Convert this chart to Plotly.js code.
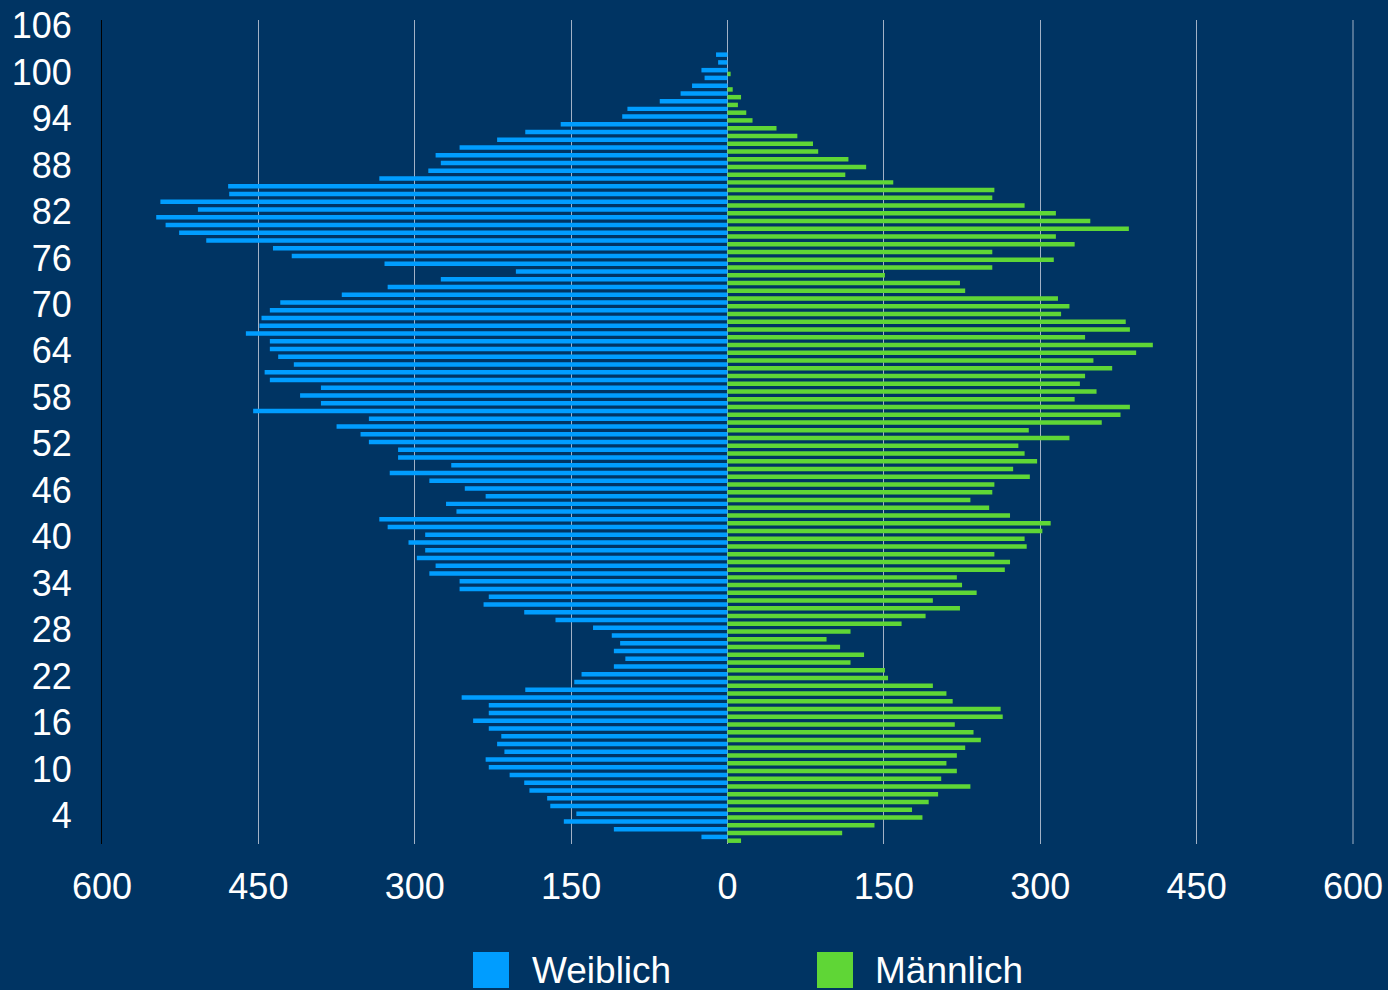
<!DOCTYPE html>
<html>
<head>
<meta charset="utf-8">
<script src="https://cdn.plot.ly/plotly-3.0.1.min.js"></script>
<style>
  html, body { margin: 0; padding: 0; background: #003463; }
  #chart { width: 1388px; height: 990px; }
</style>
</head>
<body>
<div id="chart"></div>
<script>
// Ages (categories), bottom to top
const ages = [];
for (let a = 1; a <= 102; a++) ages.push(a);

// Weiblich (female) counts, ages 1..102
const weiblich = [
  25, 109, 157, 145, 170, 173, 190, 195, 209, 229,
  232, 214, 221, 217, 229, 244, 229, 229, 255, 194,
  147, 140, 109, 98, 109, 103, 111, 129, 165, 195,
  234, 229, 257, 257, 286, 280, 298, 290, 306, 290,
  326, 334, 260, 270, 232, 252, 286, 324, 265, 316,
  316, 344, 352, 375, 344, 455, 390, 410, 390, 439,
  444, 416, 431, 439, 439, 462, 449, 447, 439, 429,
  370, 326, 275, 203, 329, 418, 436, 500, 526, 539,
  548, 508, 544, 478, 479, 334, 287, 275, 280, 257,
  221, 194, 160, 101, 96, 65, 45, 34, 22, 25,
  9, 11
];

// Männlich (male) counts, ages 1..102
const maennlich = [
  13, 110, 141, 187, 177, 193, 202, 233, 205, 220,
  210, 220, 228, 243, 236, 218, 264, 262, 216, 210,
  197, 154, 151, 118, 131, 108, 95, 118, 167, 190,
  223, 197, 239, 225, 220, 266, 271, 256, 287, 285,
  302, 310, 271, 251, 233, 254, 256, 290, 274, 297,
  285, 279, 328, 289, 359, 377, 386, 333, 354, 338,
  343, 369, 351, 392, 408, 343, 386, 382, 320, 328,
  317, 228, 223, 151, 254, 313, 254, 333, 315, 385,
  348, 315, 285, 254, 256, 159, 113, 133, 116, 87,
  82, 67, 47, 24, 18, 10, 13, 5, 0, 3,
  0, 0
];

const seriesNames = ["Weiblich", "Männlich"];
const xTickVals = [-600, -450, -300, -150, 0, 150, 300, 450, 600];
const xTickText = ["600", "450", "300", "150", "0", "150", "300", "450", "600"];
const yTickVals = [4, 10, 16, 22, 28, 34, 40, 46, 52, 58, 64, 70, 76, 82, 88, 94, 100, 106];
const yTickText = yTickVals.map(String);

const colBlue = "#009dff";
const colGreen = "#5fd636";
const bg = "#003463";
const gridCol = "rgba(190,200,215,0.85)";
const fontFam = "'Liberation Sans', Arial, Helvetica, sans-serif";

const traces = [
  {
    type: "bar", orientation: "h", name: seriesNames[0],
    y: ages, x: weiblich.map(v => -v),
    width: 0.58, offset: -0.045,
    marker: { color: colBlue, line: { width: 0 } },
    showlegend: false, hoverinfo: "skip"
  },
  {
    type: "bar", orientation: "h", name: seriesNames[1],
    y: ages, x: maennlich,
    width: 0.58, offset: -0.535,
    marker: { color: colGreen, line: { width: 0 } },
    showlegend: false, hoverinfo: "skip"
  }
];

const W = 1251, H = 824, L = 102, T = 20;
function px2x(px) { return (px - L) / W; }
function py2y(py) { return (T + H - py) / H; }

const layout = {
  width: 1388, height: 990,
  paper_bgcolor: bg, plot_bgcolor: bg,
  margin: { l: 102, r: 35, t: 20, b: 146, pad: 0 },
  barmode: "overlay",
  font: { family: fontFam, color: "#ffffff", size: 36 },
  xaxis: {
    range: [-600, 600], tickvals: xTickVals, ticktext: xTickText,
    showgrid: true, gridcolor: gridCol, gridwidth: 1,
    zeroline: true, zerolinecolor: gridCol, zerolinewidth: 1,
    showline: false, ticks: "", ticklabelstandoff: 18,
    tickfont: { family: fontFam, size: 36, color: "#ffffff" },
    fixedrange: true
  },
  yaxis: {
    range: [0.33, 106.72], tickvals: yTickVals, ticktext: yTickText,
    showgrid: false, zeroline: false,
    showline: true, linecolor: "#000000", linewidth: 1,
    ticks: "", ticklabelstandoff: 22,
    tickfont: { family: fontFam, size: 36, color: "#ffffff" },
    fixedrange: true
  },
  shapes: [
    { type: "line", xref: "paper", yref: "paper",
      x0: 1, x1: 1, y0: 0, y1: 1, layer: "below",
      line: { color: gridCol, width: 1 } },
    { type: "rect", xref: "paper", yref: "paper",
      x0: px2x(473), x1: px2x(509), y0: py2y(952), y1: py2y(988),
      fillcolor: colBlue, line: { width: 0 } },
    { type: "rect", xref: "paper", yref: "paper",
      x0: px2x(817), x1: px2x(853), y0: py2y(952), y1: py2y(988),
      fillcolor: colGreen, line: { width: 0 } }
  ],
  annotations: [
    { xref: "paper", yref: "paper", x: px2x(530), y: py2y(970),
      xanchor: "left", yanchor: "middle", showarrow: false,
      text: seriesNames[0], font: { family: fontFam, size: 37, color: "#ffffff" } },
    { xref: "paper", yref: "paper", x: px2x(873), y: py2y(970),
      xanchor: "left", yanchor: "middle", showarrow: false,
      text: seriesNames[1], font: { family: fontFam, size: 37, color: "#ffffff" } }
  ]
};

Plotly.newPlot("chart", traces, layout, { staticPlot: true, displayModeBar: false });
</script>
</body>
</html>
